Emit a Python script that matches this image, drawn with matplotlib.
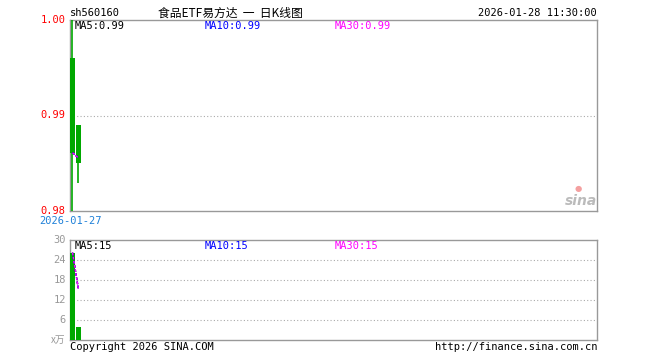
import matplotlib
matplotlib.use("Agg")
import matplotlib.pyplot as plt
import numpy as np

# ---- data ----
dates = ["2026-01-27", "2026-01-28"]
opens = [0.996, 0.989]
highs = [1.000, 0.989]
lows = [0.980, 0.9829]
closes = [0.9861, 0.9850]
volumes = [26.2, 4.0]  # 万
price_ticks = [0.98, 0.99, 1.00]
vol_ticks = [6, 12, 18, 24, 30]
ma_price_labels = ["MA5:0.99", "MA10:0.99", "MA30:0.99"]
ma_vol_labels = ["MA5:15", "MA10:15", "MA30:15"]
ma_colors = ["#000000", "#0000ff", "#ff00ff"]

code = "sh560160"
title = "食品ETF易方达  一  日K线图"
stamp = "2026-01-28 11:30:00"

W, H = 660, 360
fig = plt.figure(figsize=(W / 100, H / 100), dpi=100)
mono = ["DejaVu Sans Mono", "Noto Sans CJK SC"]
plt.rcParams['font.family'] = mono

def fx(px):
    return px / W

def fy(py):
    return 1 - py / H

L, R = 70, 597
ax = fig.add_axes([fx(L), fy(211), (R - L) / W, (211 - 20) / H])
axv = fig.add_axes([fx(L), fy(340), (R - L) / W, (340 - 240) / H])

green = "#00a800"
grey = "#999999"
nslots = (R - L) / 6.0
xl = (-2.5 / 6, nslots - 2.5 / 6)
x = np.arange(len(dates))

for a in (ax, axv):
    a.set_xlim(*xl)
    for s in a.spines.values():
        s.set_color(grey)
        s.set_linewidth(1.0)
    a.set_xticks([])
    a.tick_params(left=False, bottom=False, labelleft=False)

# main candles
ax.set_ylim(price_ticks[0], price_ticks[-1])
ax.axhline(price_ticks[1], color="#aaaaaa", ls=(0, (1, 2)), lw=0.8)
for i in range(len(dates)):
    col = green if closes[i] < opens[i] else "#ff0000"
    ax.vlines(x[i] - 0.1, lows[i], highs[i], color=col, lw=1.2, zorder=3)
    lo, hi = min(opens[i], closes[i]), max(opens[i], closes[i])
    ax.bar(x[i], hi - lo, bottom=lo, width=5 / 6, color=col, zorder=3, linewidth=0)

ma = np.cumsum(closes) / (np.arange(len(closes)) + 1)
for c in ma_colors:
    ax.plot(x, ma, color=c, lw=1.0, ls=(0, (2, 1)), zorder=4)

for t in price_ticks:
    ax.text(-0.008, t, f"{t:.2f}", transform=ax.get_yaxis_transform(), ha="right",
            va="center", color="#ff0000", fontsize=7.5, family=mono)

for j, (lab, c) in enumerate(zip(ma_price_labels, ma_colors)):
    fig.text(fx(75 + 130 * j), fy(26), lab, color=c, fontsize=7.5, va="center", ha="left", family=mono)

fig.text(fx(70), fy(13), code, fontsize=7.5, va="center", ha="left", family=mono)
fig.text(fx(230), fy(13), title, fontsize=8.5, va="center", ha="center",
         family=["Noto Sans CJK SC", "DejaVu Sans Mono"])
fig.text(fx(597), fy(13), stamp, fontsize=7.5, va="center", ha="right", family=mono)
fig.text(fx(70), fy(221), dates[0], fontsize=7.5, va="center", ha="center", color="#1e80d8", family=mono)

# sina watermark
fig.text(fx(597), fy(201), "sina", fontsize=10, va="center", ha="right", color="#bbbbbb",
         style="italic", weight="bold", family="DejaVu Sans")
fig.text(fx(578), fy(188), "●", fontsize=6, va="center", ha="center", color="#f4a0a0",
         family="DejaVu Sans")

# volume
axv.set_ylim(0, vol_ticks[-1])
for t in vol_ticks[:-1]:
    axv.axhline(t, color="#aaaaaa", ls=(0, (1, 2)), lw=0.8)
axv.bar(x, volumes, width=5 / 6, color=green, zorder=3, linewidth=0)
vma = np.cumsum(volumes) / (np.arange(len(volumes)) + 1)
for c in ma_colors:
    axv.plot(x, vma, color=c, lw=1.0, ls=(0, (2, 1)), zorder=4)
for t in vol_ticks:
    axv.text(-0.008, t, f"{t}", transform=axv.get_yaxis_transform(), ha="right",
             va="center", color=grey, fontsize=7.5, family=mono)
axv.text(-0.008, 0, "x万", transform=axv.get_yaxis_transform(), ha="right",
         va="center", color=grey, fontsize=7, family=["Noto Sans CJK SC", "DejaVu Sans Mono"])
for j, (lab, c) in enumerate(zip(ma_vol_labels, ma_colors)):
    fig.text(fx(75 + 130 * j), fy(246), lab, color=c, fontsize=7.5, va="center", ha="left", family=mono)

fig.text(fx(70), fy(347), "Copyright 2026 SINA.COM", fontsize=7.5, va="center", ha="left", family=mono)
fig.text(fx(597), fy(347), "http://finance.sina.com.cn", fontsize=7.5, va="center", ha="right", family=mono)

fig.savefig("out.png", dpi=100, facecolor="white")
